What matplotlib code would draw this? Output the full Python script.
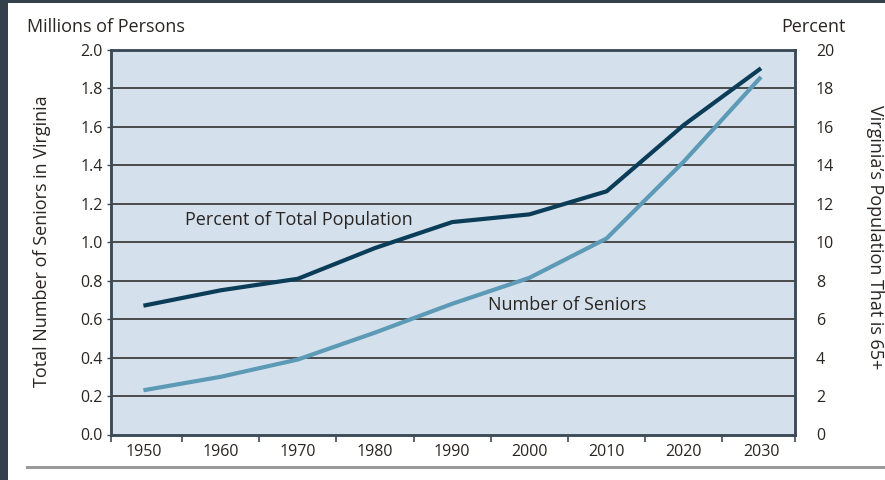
import matplotlib
matplotlib.use("Agg")
import matplotlib.pyplot as plt
from matplotlib.patches import Rectangle
from matplotlib.lines import Line2D

years = [1950, 1960, 1970, 1980, 1990, 2000, 2010, 2020, 2030]
seniors_millions = [0.23, 0.30, 0.39, 0.53, 0.68, 0.815, 1.02, 1.42, 1.86]
percent_65plus = [6.7, 7.5, 8.1, 9.7, 11.05, 11.45, 12.65, 16.1, 19.05]
left_ticks = [0.0, 0.2, 0.4, 0.6, 0.8, 1.0, 1.2, 1.4, 1.6, 1.8, 2.0]
right_ticks = [0, 2, 4, 6, 8, 10, 12, 14, 16, 18, 20]

plt.rcParams["font.family"] = ["Open Sans", "DejaVu Sans"]
TEXT = "#2a2522"
BG = "#d4e1ec"
DARK = "#0b3c58"
LIGHT = "#5d9ab6"
FRAME = "#3b4a57"
TICK_FS = 11.5
LABEL_FS = 13

fig = plt.figure(figsize=(8.85, 4.8), dpi=100)
fig.patch.set_facecolor("white")

# dark slide edges and bottom rule
fig.patches.append(Rectangle((0, 0), 8 / 885, 1, transform=fig.transFigure,
                             facecolor="#34404b", edgecolor="none", zorder=0))
fig.patches.append(Rectangle((0, 1 - 3 / 480), 1, 3 / 480, transform=fig.transFigure,
                             facecolor="#34404b", edgecolor="none", zorder=0))
fig.lines.append(Line2D([27 / 885, 1], [1 - 467 / 480] * 2, transform=fig.transFigure,
                        color="#9a9a9a", lw=2.2))

ax = fig.add_axes([111 / 885, 1 - 434.5 / 480, 684 / 885, 384.5 / 480])
ax.set_facecolor(BG)
ax.set_xlim(1945.8, 2034.4)
ax.set_ylim(0, 2.0)

for v in left_ticks[1:-1]:
    ax.axhline(v, color="#4a4a4a", lw=1.4, zorder=1)

ax.plot(years, seniors_millions, color=LIGHT, lw=3, solid_capstyle="butt", zorder=3)

ax2 = ax.twinx()
ax2.set_ylim(0, 20)
ax2.plot(years, percent_65plus, color=DARK, lw=3, solid_capstyle="butt", zorder=3)

for a in (ax, ax2):
    for s in a.spines.values():
        s.set_color(FRAME)
        s.set_linewidth(1.8)

ax.set_yticks(left_ticks)
ax.set_yticklabels([f"{v:.1f}" for v in left_ticks])
ax.tick_params(axis="y", length=3, width=1, color=FRAME, labelsize=TICK_FS,
               labelcolor=TEXT, pad=3)

ax.set_xticks(years)
ax.set_xticklabels([str(y) for y in years])
ax.tick_params(axis="x", length=0, labelsize=TICK_FS, labelcolor=TEXT, pad=7)
minor = [1945.8] + [y + 5 for y in years[:-1]] + [2034.4]
ax.set_xticks(minor, minor=True)
ax.tick_params(axis="x", which="minor", length=5, width=1.2, color=FRAME, direction="out")

ax2.set_yticks(right_ticks)
ax2.set_yticklabels([str(v) for v in right_ticks])
ax2.tick_params(axis="y", length=0, labelsize=TICK_FS, labelcolor=TEXT, pad=15)

fig.text(27 / 885, 1 - 27 / 480, "Millions of Persons", fontsize=LABEL_FS, color=TEXT,
         ha="left", va="center")
fig.text(813 / 885, 1 - 27 / 480, "Percent", fontsize=LABEL_FS, color=TEXT,
         ha="center", va="center")
fig.text(42 / 885, 1 - 241 / 480, "Total Number of Seniors in Virginia", fontsize=LABEL_FS,
         color=TEXT, rotation=90, ha="center", va="center")
fig.text(875 / 885, 1 - 237 / 480, "Virginia\u2019s Population That is 65+", fontsize=LABEL_FS,
         color=TEXT, rotation=270, ha="center", va="center")

ax.text(1970.2, 1.114, "Percent of Total Population", fontsize=LABEL_FS, color=TEXT,
        ha="center", va="center", zorder=4)
ax.text(2004.9, 0.673, "Number of Seniors", fontsize=LABEL_FS, color=TEXT,
        ha="center", va="center", zorder=4)

fig.savefig("out.png", dpi=100, facecolor="white")
